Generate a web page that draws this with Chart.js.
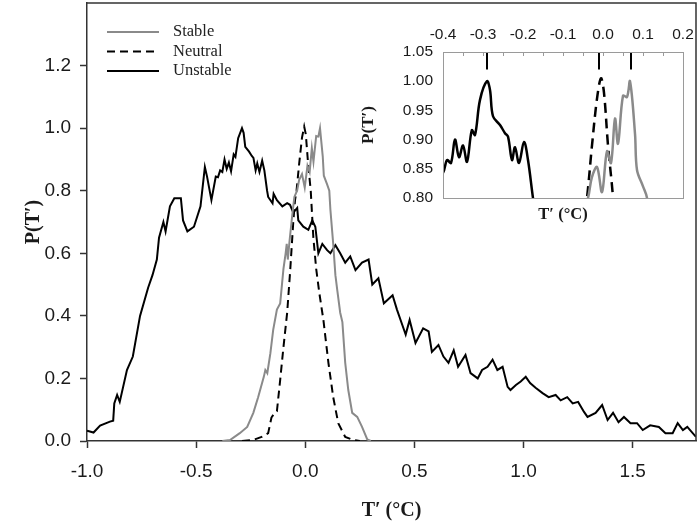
<!DOCTYPE html>
<html>
<head>
<meta charset="utf-8">
<script src="https://cdn.jsdelivr.net/npm/chart.js@4.4.1/dist/chart.umd.min.js"></script>
<style>
  html, body { margin: 0; padding: 0; background: #fff; }
  #wrap { position: relative; width: 699px; height: 524px; }
  #main { position: absolute; left: 0; top: 0; }
  #inset { position: absolute; left: 350px; top: 0; }
</style>
</head>
<body>
<div id="wrap">
  <canvas id="main" width="699" height="524"></canvas>
  <canvas id="inset" width="345" height="240"></canvas>
</div>
<script>
// series (T' in degC, normalised P)
const seriesNames = ["Stable", "Neutral", "Unstable"];

const stableX = [-0.38, -0.345, -0.30, -0.266, -0.238, -0.216, -0.19, -0.183, -0.174, -0.16, -0.147, -0.13, -0.115,
  -0.10, -0.09, -0.085, -0.08, -0.072, -0.06, -0.05, -0.0375, -0.028, -0.015, -0.0025, 0.01, 0.02, 0.03, 0.0375,
  0.05, 0.06, 0.0675, 0.08, 0.085, 0.10, 0.11, 0.115, 0.128, 0.138, 0.147, 0.16, 0.17, 0.183, 0.197, 0.215,
  0.238, 0.26, 0.284, 0.30];
const stableY = [0, 0.003, 0.025, 0.045, 0.09, 0.14, 0.205, 0.227, 0.217, 0.28, 0.355, 0.42, 0.44,
  0.55, 0.60, 0.63, 0.58, 0.64, 0.72, 0.78, 0.80, 0.835, 0.853, 0.81, 0.88, 0.86, 0.936, 0.893,
  0.975, 0.973, 1.0, 0.91, 0.848, 0.82, 0.80, 0.74, 0.63, 0.53, 0.48, 0.41, 0.38, 0.25, 0.163, 0.09,
  0.077, 0.045, 0.005, 0];

const neutralX = [-0.29, -0.24, -0.20, -0.17, -0.155, -0.14, -0.13, -0.115, -0.10, -0.083, -0.069, -0.055, -0.047,
  -0.04, -0.0275, -0.015, -0.005, 0.0025, 0.0125, 0.025, 0.037, 0.05, 0.065, 0.083, 0.106, 0.128, 0.151,
  0.183, 0.22, 0.25];
const neutralY = [0, 0.003, 0.013, 0.025, 0.075, 0.09, 0.095, 0.195, 0.30, 0.41, 0.546, 0.70, 0.77,
  0.80, 0.89, 0.97, 1.005, 0.98, 0.89, 0.80, 0.65, 0.55, 0.47, 0.387, 0.25, 0.14, 0.057,
  0.013, 0.003, 0];

const unstableX = [-1.0, -0.97, -0.94, -0.895, -0.88, -0.875, -0.862, -0.85, -0.817, -0.79, -0.757, -0.72, -0.70,
  -0.68, -0.67, -0.65, -0.64, -0.62, -0.60, -0.57, -0.56, -0.54, -0.51, -0.48, -0.46, -0.45, -0.43, -0.41,
  -0.40, -0.39, -0.38, -0.37, -0.36, -0.35, -0.34, -0.328, -0.32, -0.3075, -0.29, -0.2825, -0.275, -0.2575,
  -0.245, -0.2375, -0.2275, -0.22, -0.21, -0.1975, -0.1875, -0.175, -0.17, -0.15, -0.145, -0.13, -0.105,
  -0.083, -0.07, -0.055, -0.037, -0.032, -0.009, 0.014, 0.032, 0.046, 0.06, 0.078, 0.10, 0.115, 0.138,
  0.16, 0.183, 0.206, 0.23, 0.26, 0.29, 0.307, 0.335, 0.36, 0.40, 0.42, 0.445, 0.46, 0.478, 0.505, 0.54,
  0.565, 0.58, 0.61, 0.633, 0.656, 0.68, 0.70, 0.734, 0.757, 0.79, 0.81, 0.835, 0.858, 0.88, 0.904, 0.927,
  0.94, 0.965, 0.987, 1.01, 1.03, 1.055, 1.087, 1.115, 1.147, 1.17, 1.20, 1.225, 1.25, 1.277, 1.293, 1.33,
  1.36, 1.385, 1.41, 1.435, 1.46, 1.49, 1.52, 1.546, 1.58, 1.62, 1.65, 1.683, 1.706, 1.73, 1.75, 1.79];
const unstableY = [0.033, 0.027, 0.049, 0.062, 0.065, 0.12, 0.147, 0.125, 0.227, 0.27, 0.40, 0.49, 0.53,
  0.58, 0.65, 0.70, 0.67, 0.75, 0.776, 0.776, 0.705, 0.67, 0.685, 0.75, 0.876, 0.845, 0.77, 0.845,
  0.843, 0.865, 0.86, 0.90, 0.87, 0.89, 0.862, 0.916, 0.908, 0.968, 1.0, 0.985, 0.94, 0.925,
  0.911, 0.905, 0.865, 0.887, 0.86, 0.896, 0.865, 0.80, 0.78, 0.76, 0.79, 0.77, 0.75,
  0.76, 0.755, 0.73, 0.745, 0.705, 0.685, 0.675, 0.705, 0.685, 0.60, 0.63, 0.61, 0.60, 0.626,
  0.60, 0.57, 0.59, 0.546, 0.57, 0.58, 0.50, 0.52, 0.44, 0.466, 0.42, 0.37, 0.34, 0.387, 0.313, 0.36,
  0.35, 0.285, 0.307, 0.27, 0.25, 0.29, 0.237, 0.275, 0.217, 0.20, 0.227, 0.237, 0.26, 0.227, 0.237, 0.173,
  0.163, 0.179, 0.19, 0.205, 0.185, 0.17, 0.153, 0.14, 0.147, 0.13, 0.14, 0.12, 0.125, 0.093, 0.077, 0.09,
  0.115, 0.067, 0.09, 0.06, 0.077, 0.057, 0.057, 0.035, 0.05, 0.045, 0.025, 0.025, 0.057, 0.035, 0.045, 0.013];

// peak markers in the inset
const peakX = [-0.29, -0.01, 0.07];
const peakTop = 1.05, peakBottom = 1.02;

// axis ranges / ticks
const mainXRange = [-1.0, 1.79], mainXStep = 0.5;
const mainYRange = [0, 1.4], mainYStep = 0.2;
const insetXRange = [-0.4, 0.2], insetXStep = 0.05;
const insetYRange = [0.8, 1.05], insetYStep = 0.05;

const GRAY = "#8a8a8a";
const toPts = (xs, ys) => xs.map((x, i) => ({ x: x, y: ys[i] }));

function makeSets(lw, dash) {
  return [
    { label: seriesNames[0], data: toPts(stableX, stableY), borderColor: GRAY, borderWidth: lw },
    { label: seriesNames[1], data: toPts(neutralX, neutralY), borderColor: "#000", borderWidth: lw, borderDash: dash },
    { label: seriesNames[2], data: toPts(unstableX, unstableY), borderColor: "#000", borderWidth: lw }
  ];
}

const onStep = (v, step) => Math.abs(v / step - Math.round(v / step)) < 1e-6;
// keep the plot box where the figure has it (no label overflow padding)
const noPad = s => { s.paddingTop = 0; s.paddingBottom = 0; s.paddingLeft = 0; s.paddingRight = 0; };

// frame + legend for main chart
const mainDeco = {
  id: "mainDeco",
  afterDatasetsDraw(chart) {
    const { ctx, chartArea: a } = chart;
    ctx.save();
    ctx.strokeStyle = "#333";
    ctx.lineWidth = 1.5;
    ctx.beginPath();
    ctx.moveTo(a.left, a.top); ctx.lineTo(a.right, a.top); ctx.lineTo(a.right, a.bottom);
    ctx.stroke();
    // legend
    ctx.font = "16.5px 'Liberation Serif'";
    ctx.textBaseline = "middle";
    ctx.fillStyle = "#222";
    chart.data.datasets.forEach((ds, i) => {
      const y = a.top + 29 + i * 19.5;
      ctx.beginPath();
      ctx.strokeStyle = ds.borderColor;
      ctx.lineWidth = 2;
      ctx.setLineDash(ds.borderDash || []);
      ctx.moveTo(a.left + 20, y); ctx.lineTo(a.left + 72, y);
      ctx.stroke();
      ctx.setLineDash([]);
      ctx.fillText(ds.label, a.left + 86, y);
    });
    ctx.restore();
  }
};

new Chart(document.getElementById("main"), {
  type: "line",
  data: { datasets: makeSets(2, [8, 5]) },
  plugins: [mainDeco],
  options: {
    responsive: false,
    animation: false,
    layout: { padding: { top: 3, right: 3, left: 0, bottom: 0 } },
    elements: { point: { radius: 0 }, line: { tension: 0 } },
    plugins: { legend: { display: false }, tooltip: { enabled: false } },
    scales: {
      x: {
        type: "linear", min: mainXRange[0], max: mainXRange[1],
        ticks: { stepSize: mainXStep, includeBounds: false, padding: 12, color: "#1a1a1a",
          font: { family: "'Liberation Sans'", size: 19 },
          callback: v => v.toFixed(1) },
        afterBuildTicks: s => { s.ticks = s.ticks.filter(t => onStep(t.value, mainXStep)); },
        grid: { drawOnChartArea: false, tickLength: 7, tickColor: "#333", tickWidth: 1.5 },
        border: { color: "#333", width: 1.5 },
        title: { display: true, text: "T\u2032 (\u00B0C)", color: "#1a1a1a",
          font: { family: "'Liberation Serif'", size: 20, weight: "bold" }, padding: { bottom: 1 } },
        afterFit: s => { s.height = 83; noPad(s); }
      },
      y: {
        type: "linear", min: mainYRange[0], max: mainYRange[1],
        ticks: { stepSize: mainYStep, includeBounds: false, padding: 9, color: "#1a1a1a",
          font: { family: "'Liberation Sans'", size: 19 },
          callback: v => v.toFixed(1) },
        afterBuildTicks: s => { s.ticks = s.ticks.filter(t => t.value < mainYRange[1] - 1e-6); },
        grid: { drawOnChartArea: false, tickLength: 7, tickColor: "#333", tickWidth: 1.5 },
        border: { color: "#333", width: 1.5 },
        title: { display: true, text: "P(T\u2032)", color: "#1a1a1a",
          font: { family: "'Liberation Serif'", size: 20, weight: "bold" }, padding: { top: 22 } },
        afterFit: s => { s.width = 87; noPad(s); }
      }
    }
  }
});

// frame + inner tick marks for the inset
const insetDeco = {
  id: "insetDeco",
  afterDatasetsDraw(chart) {
    const { ctx, chartArea: a } = chart;
    const xs = chart.scales.x;
    ctx.save();
    ctx.strokeStyle = "#9a9a9a";
    ctx.lineWidth = 1;
    ctx.strokeRect(a.left + 0.5, a.top + 0.5, a.right - a.left, a.bottom - a.top);
    ctx.beginPath();
    xs.ticks.forEach(t => {
      const px = Math.round(xs.getPixelForValue(t.value)) + 0.5;
      ctx.moveTo(px, a.top); ctx.lineTo(px, a.top + 4);
    });
    ctx.stroke();
    ctx.restore();
  }
};

const peakPts = [];
peakX.forEach(x => { peakPts.push({ x: x, y: peakTop }, { x: x, y: peakBottom }, { x: x, y: null }); });

const insetSets = makeSets(2.5, [10, 6]);
insetSets.forEach(d => { d.tension = 0.35; });
insetSets.push({ label: "peaks", data: peakPts, borderColor: "#000", borderWidth: 2, tension: 0, spanGaps: false });

new Chart(document.getElementById("inset"), {
  type: "line",
  data: { datasets: insetSets },
  plugins: [insetDeco],
  options: {
    responsive: false,
    animation: false,
    layout: { padding: { top: 0, right: 12, left: 0, bottom: 0 } },
    elements: { point: { radius: 0 } },
    plugins: { legend: { display: false }, tooltip: { enabled: false } },
    scales: {
      x: {
        type: "linear", position: "top", min: insetXRange[0], max: insetXRange[1],
        ticks: { stepSize: insetXStep, padding: 8, color: "#1a1a1a", maxRotation: 0, autoSkip: false,
          font: { family: "'Liberation Sans'", size: 15.5 },
          callback: v => onStep(v, 0.1) ? (Math.round(v * 10) / 10).toFixed(1) : "" },
        grid: { display: false, drawTicks: false },
        border: { display: false },
        afterFit: s => { s.height = 52; noPad(s); }
      },
      x2: {
        type: "linear", position: "bottom", min: insetXRange[0], max: insetXRange[1],
        ticks: { display: false },
        grid: { display: false, drawTicks: false },
        border: { display: false },
        title: { display: true, text: "T\u2032 (\u00B0C)", color: "#1a1a1a",
          font: { family: "'Liberation Serif'", size: 16.5, weight: "bold" }, padding: { bottom: 15 } },
        afterFit: s => { s.height = 42; noPad(s); }
      },
      y: {
        type: "linear", min: insetYRange[0], max: insetYRange[1],
        ticks: { stepSize: insetYStep, padding: 10, color: "#1a1a1a",
          font: { family: "'Liberation Sans'", size: 15.5 },
          callback: v => v.toFixed(2) },
        grid: { display: false, drawTicks: false },
        border: { display: false },
        title: { display: true, text: "P(T\u2032)", color: "#1a1a1a",
          font: { family: "'Liberation Serif'", size: 17, weight: "bold" }, padding: { top: 8 } },
        afterFit: s => { s.width = 93; noPad(s); }
      }
    }
  }
});
</script>
</body>
</html>
